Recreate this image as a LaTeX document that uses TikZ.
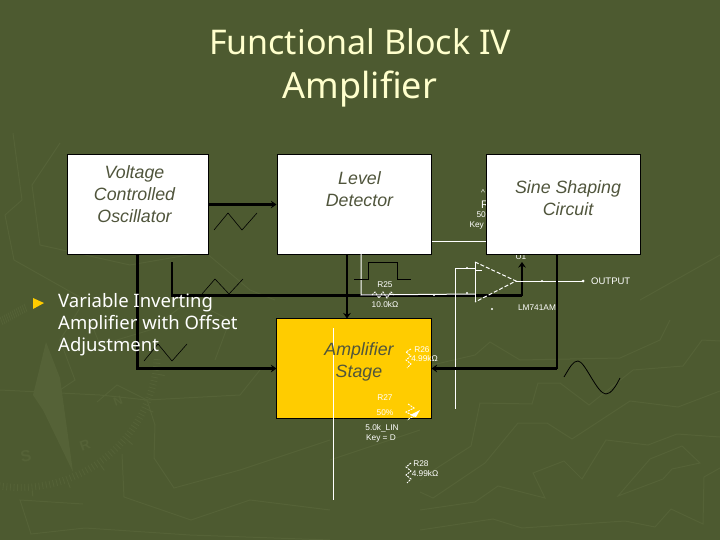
\documentclass[tikz,border=0pt]{standalone}
\usepackage{fontspec}
\setmainfont{Liberation Sans}
\newfontfamily\SlideFont{Noto Sans}
\usetikzlibrary{arrows.meta,calc}
\definecolor{slBack}{HTML}{4D5A30}
\definecolor{slWater}{HTML}{556237}
\definecolor{slCream}{HTML}{FFFFCC}
\definecolor{slGold}{HTML}{FFCC00}
\definecolor{slText}{HTML}{50553C}
\newcommand{\BlockType}{\itshape\fontsize{17.8}{22}\selectfont}
\newcommand{\PartType}{\fontsize{8.3}{9}\selectfont}
\tikzset{sl/base/.style={x=1pt,y=-1pt,line cap=butt,line join=miter,
  every node/.style={inner sep=0pt}},
  sl/water/.style={draw=slWater,line width=1pt},
  sl/block/.style={draw=black,fill=white,line width=1pt,minimum width=#1,minimum height=99pt},
  sl/block/.default=154pt,
  sl/label/.style={font=\BlockType,text=slText,align=center},
  sl/part/.style={font=\PartType,text=white,align=center},
  sl/bus/.style={draw=black,line width=2.8pt},
  sl/busarrow/.style={sl/bus,-{Stealth[length=5.5pt,width=7.5pt]}},
  sl/wave/.style={draw=black,line width=.6pt},
  sl/wire/.style={draw=white,line width=1pt},
  sl/zig/.style={draw=white,line width=.9pt,dash pattern=on 2pt off 1pt}}
\begin{document}
\begin{tikzpicture}[sl/base]
  \fill[slBack] (0,0) rectangle (720,540);
  \useasboundingbox (0,0) rectangle (720,540);
  % Watermark behind the slide: compass and contour lines.
  \fill[slWater] (46,342)--(60,378)--(73,472)--(43,410)--(33,395)--cycle;
  \foreach \a in {4,5.5,...,100}{%
    \draw[sl/water,line width=.8pt] ($(20,350)+(\a:134)$)--($(20,350)+(\a:141)$);}
  \foreach \a in {10,25,...,100}{%
    \draw[sl/water] ($(20,350)+(\a:141)$)--($(20,350)+(\a:147)$);}
  \foreach \x in {0,2,...,24}{%
    \draw[sl/water,line width=.8pt] ({\x},{317-.55*\x})--({\x+3},{325-.55*\x});}
  \node[font=\bfseries\fontsize{16}{16}\selectfont,text=slWater,rotate=10] (wmS) at (26,456) {S};
  \node[font=\bfseries\fontsize{14}{14}\selectfont,text=slWater,rotate=20] (wmR) at (85,445) {R};
  \node[font=\bfseries\fontsize{12}{12}\selectfont,text=slWater,rotate=20] (wmN) at (118,401) {N};
  \draw[sl/water] (420,510)--(475,502)--(498,486)--(545,498)--(533,473)--(564,461)--(582,479)--(606,440)--(648,445)--(677,434)--(720,437);
  \draw[sl/water] (420,492)--(433,498)--(485,463)--(518,423)--(547,423)--(572,439)--(630,401)--(678,407)--(720,391);
  \draw[sl/water] (420,480)--(437,468)--(471,446)--(480,403)--(532,404)--(538,383)--(560,383)--(589,405)--(633,370)--(683,366)--(702,340)--(720,341);
  \draw[sl/water] (420,530)--(493,519)--(522,528)--(625,521)--(655,527)--(671,509)--(703,524)--(704,477)--(720,468);
  \draw[sl/water] (618,496)--(650,459)--(682,446)--(700,463)--(672,469)--(663,479)--cycle;
  \draw[sl/water] (432,365)--(475,355)--(490,342)--(520,360)--(620,358)--(660,340)--(670,320);
  \draw[sl/water] (97,402)--(117,385)--(147,400)--(155,425)--(154,458)--(174,488)--(240,470)--(300,450)--(330,440);
  \draw[sl/water] (122,454)--(124,497)--(191,520)--(250,500)--(330,510);
  \draw[sl/water] (83,504)--(20,500)--(31,534)--(85,528)--(190,535)--(330,540);
  \draw[sl/water] (0,390)--(100,395)--(147,400)--(240,395)--(260,370);
  \draw[sl/water] (13,133)--(22,200)--(5,215)--(14,260)--(85,300)--(60,340)--(75,380)--(45,400);
  \draw[sl/water] (60,143)--(32,185)--(40,245)--(85,255)--(130,265)--(205,252)--(250,290)--(275,300);
  \draw[sl/water] (90,320)--(100,345)--(150,330)--(190,300)--(230,320)--(215,360);
  \draw[sl/water] (420,430)--(330,460);
  \draw[sl/water] (640,300)--(720,255);
  % Title.
  \node[font=\SlideFont\fontsize{34}{36}\selectfont,text=slCream] (title) at (360,42) {Functional Block IV};
  \node[font=\SlideFont\fontsize{36}{40}\selectfont,text=slCream] (subtitle) at (360,89) {Amplifier};
  % Parts of the schematic that the sine block covers.
  \node[sl/part] (potTip) at (483,193) {\^{}};
  \node[sl/part,font=\fontsize{11}{11}\selectfont] (potName) at (485,205) {R};
  \node[sl/part,anchor=east] (potVal) at (497,215) {50.0k};
  \node[sl/part,anchor=east] (potKey) at (499,226) {Key = A};
  % Blocks.
  \node[sl/block=141pt] (vco) at (137.5,204.5) {};
  \node[sl/block] (level) at (354,204.5) {};
  \node[sl/block] (amp) at (354,368.5) {};
  \fill[slGold] (amp.south west) rectangle (amp.north east);
  \draw[black,line width=1pt] (amp.south west) rectangle (amp.north east);
  \coordinate (sineTap) at (487,241);
  \coordinate (levelTap) at (361,295);
  \coordinate (pinMinus) at (475,268);
  \coordinate (pinPlus) at (475,294);
  \coordinate (feedDown) at (455,409);
  \coordinate (ampWireTop) at (333,328);
  \coordinate (ampWireEnd) at (333,500);
  \coordinate (outTip) at (583,281);
  \coordinate (ampTop) at (516,281);
  \coordinate (rampStart) at (172,262);
  \coordinate (rampBend) at (172,295.5);
  \coordinate (rampRight) at (522,295.5);
  \coordinate (rampEnd) at (522,262);
  \coordinate (sineOut) at (557,368.5);
  % Thick signal paths.
  \draw[sl/busarrow] (vco.east)--(level.west);
  \draw[sl/busarrow] (vco.south)|-(amp.west);
  \draw[sl/bus] (rampStart)--(rampBend)--(rampRight);
  \draw[sl/busarrow] (rampRight)--(rampEnd);
  \draw[sl/busarrow] (level.south -| 347,0)--(amp.north -| 347,0);
  % Schematic wires and op amp.
  \draw[sl/wire] (level.east |- sineTap)--(sineTap);
  \draw[sl/wire] (361,254)--(levelTap)--(pinPlus);
  \draw[sl/wire] (pinMinus)-|(feedDown);
  \draw[sl/wire] (ampWireTop)--(ampWireEnd);
  \draw[sl/wire] (475,262)--(475,302);
  \draw[sl/wire,dash pattern=on 4pt off 2pt] (475,262)--(ampTop)--(475,302);
  \draw[sl/wire] (ampTop)--(outTip);
  \draw[sl/wire] (476,270.5)--(482,270.5);
  \fill[white] (outTip) circle (1.5);
  \foreach \x/\y in {434/295,492/309,467/268,467/293,542/281}{\fill[white] (\x,\y) circle (1.2);}
  % Resistors.
  \draw[sl/zig] (372,295)--(375,292)--(379,298)--(383,292)--(387,298)--(391,292)--(394,295);
  \draw[sl/zig] (411,349)--(406,352)--(411,356)--(406,360)--(411,364)--(407,368);
  \draw[sl/zig] (408,404)--(414,408)--(406,412)--(414,416)--(407,420);
  \draw[sl/zig] (411,463)--(406,467)--(411,471)--(406,475)--(411,479)--(407,483);
  \fill[white] (410,415)--(420,410)--(416,417)--cycle;
  % Part names.
  \node[sl/part] (r25Name) at (385,285) {R25};
  \node[sl/part] (r25Val) at (385,305) {10.0kΩ};
  \node[sl/part] (r26Name) at (422,350) {R26};
  \node[sl/part] (r26Val) at (424.5,359) {4.99kΩ};
  \node[sl/part] (r27Name) at (385,398) {R27};
  \node[sl/part] (r27Val) at (385,413) {50\%};
  \node[sl/part] (r27Lin) at (382,428) {5.0k\_LIN};
  \node[sl/part] (r27Key) at (381,439) {Key = D};
  \node[sl/part] (r28Name) at (421,464) {R28};
  \node[sl/part] (r28Val) at (425,474) {4.99kΩ};
  \node[sl/part] (u1Name) at (521,257) {U1};
  \node[sl/part] (u1Type) at (537,308) {LM741AM};
  \node[sl/part,font=\fontsize{9.5}{10}\selectfont,anchor=west] (output) at (591,281) {OUTPUT};
  % Sine block goes over the schematic, then its own feed.
  \node[sl/block] (sine) at (563.5,204.5) {};
  \draw[sl/bus] (sine.south -| sineOut)--(sineOut);
  \draw[sl/busarrow] (sineOut)--(amp.east);
  % Waveforms.
  \draw[sl/wave] (214,230)--(228,213)--(242,230)--(257,213);
  \draw[sl/wave] (202,294)--(215,279)--(229,294)--(243,279);
  \draw[sl/wave] (144,361)--(158,344)--(172,361)--(187,344);
  \draw[sl/wave] (354,279)--(368,279)--(368,262)--(397,262)--(397,279)--(411,279);
  \draw[sl/wave,line width=.8pt] (564,377) .. controls (570,367) and (573,361) .. (578,361)
    .. controls (585,361) and (597,394) .. (606,394) .. controls (611,394) and (616,386) .. (620,378);
  % Bullet text sits on the thick paths.
  \fill[slGold] (33,298)--(44,303)--(33,309)--cycle;
  \node[anchor=north west,font=\SlideFont\fontsize{18.5}{22}\selectfont,text=white,align=left] (bullet) at (58,293)
    {Variable Inverting\\Amplifier with Offset\\Adjustment};
  % Block names.
  \node[sl/label] (vcoName) at (134.5,194) {Voltage\\Controlled\\Oscillator};
  \node[sl/label] (levelName) at (359.5,189.5) {Level\\Detector};
  \node[sl/label] (sineName) at (568,198) {Sine Shaping\\Circuit};
  \node[sl/label] (ampName) at (359,362) {Amplifier\\Stage};
\end{tikzpicture}
\end{document}
